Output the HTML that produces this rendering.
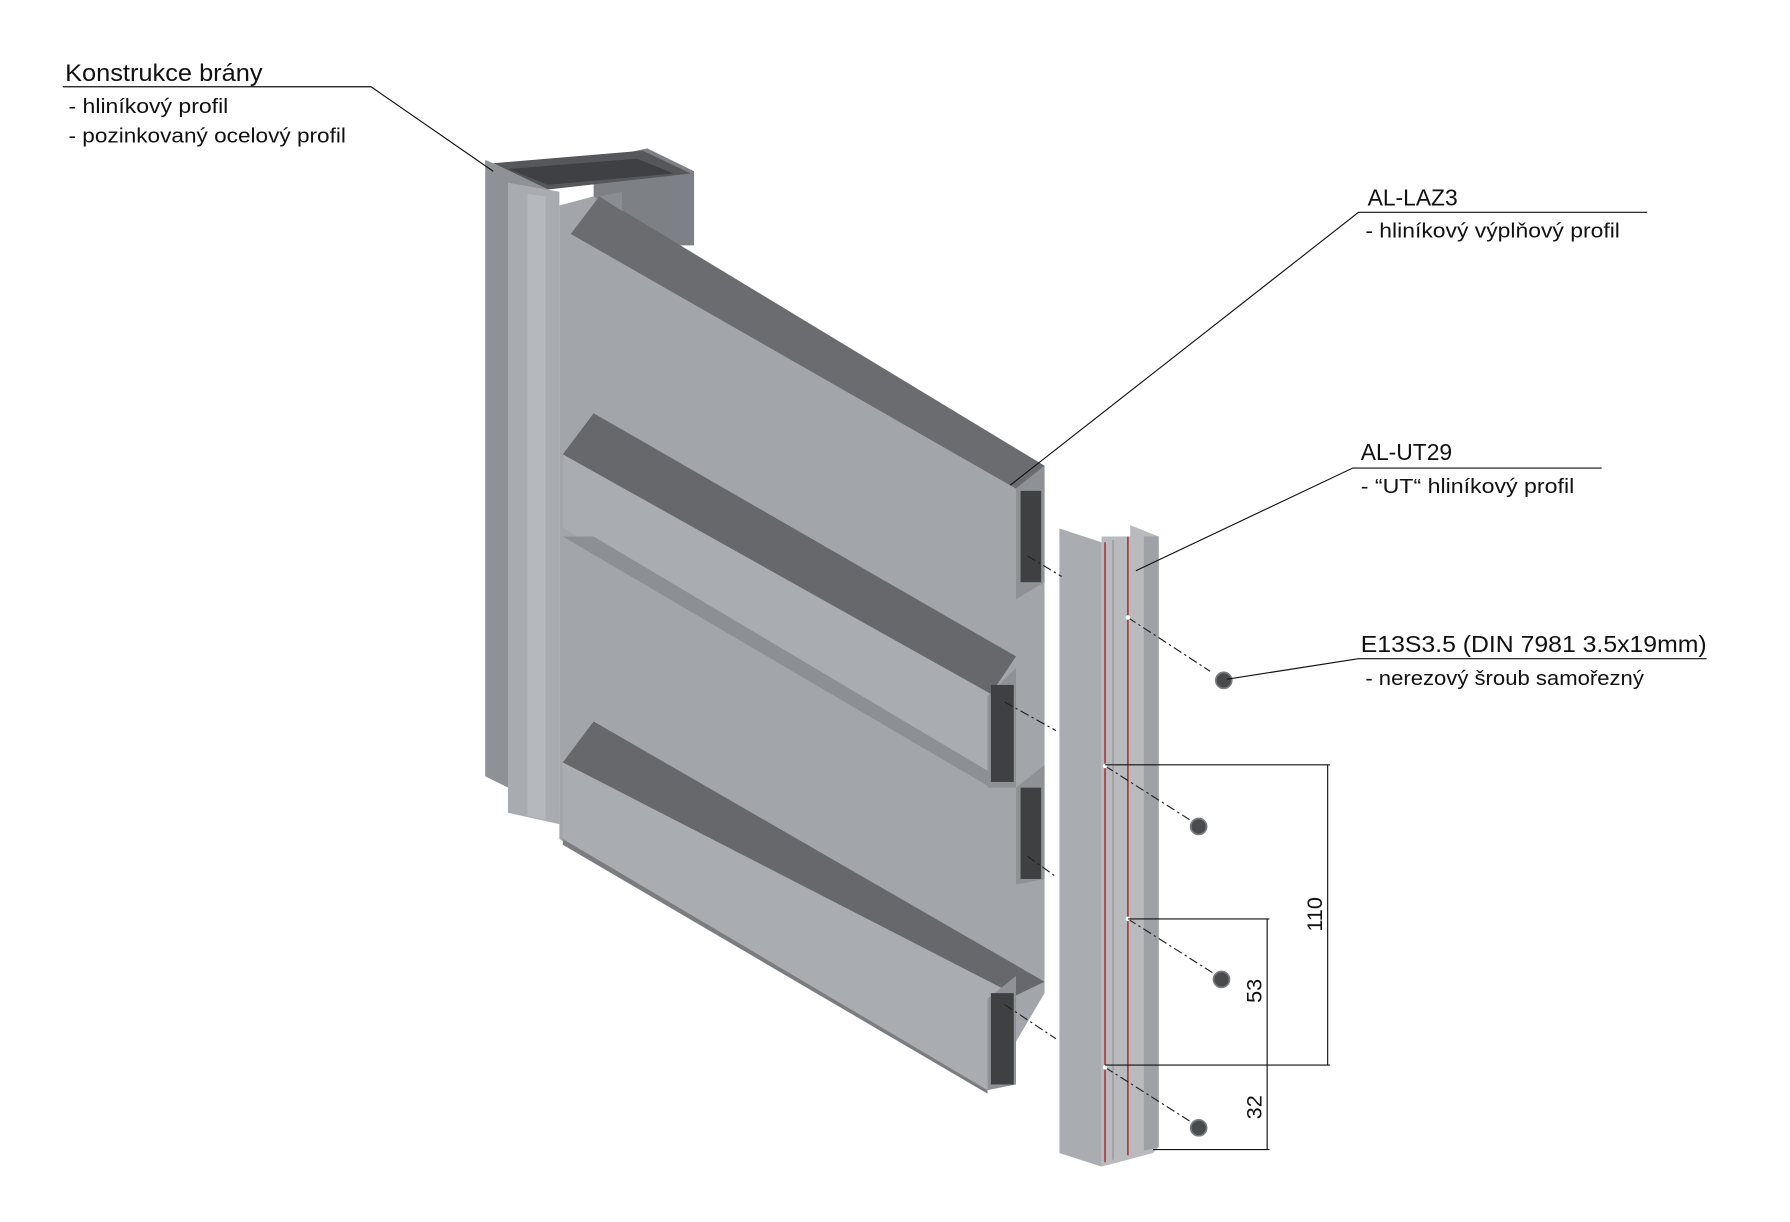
<!DOCTYPE html>
<html><head><meta charset="utf-8"><style>
html,body{margin:0;padding:0;background:#fff;}
svg{display:block}
text{font-family:"Liberation Sans",sans-serif;fill:#111}
</style></head><body>
<svg width="1790" height="1222" viewBox="0 0 1568 1070.5" preserveAspectRatio="none" xmlns="http://www.w3.org/2000/svg">
<rect width="1568" height="1071" fill="#fff"/>
<!-- post back tube -->
<polygon points="520,140 567,130 608,150 608,215 520,215" fill="#7d8085"/>
<polygon points="432,143 563,132 605,152 480,166" fill="#55575a"/>
<polygon points="445,148 558,139 590,152 480,162" fill="#3f4043"/>
<polygon points="425,140 432,143 480,166 480,170 445,160 445,690 425,680" fill="#8e9196"/>
<polygon points="445,160 490,168 490,722 445,712" fill="#a8abb0"/>
<polygon points="462,170 478,172 478,718 462,715" fill="#b5b8bc"/>
<!-- panel base -->
<polygon points="490,180 520,172 915,408 915,870 865,955 490,735" fill="#a2a5aa"/>
<polygon points="500,205 525,172 915,408 890,428" fill="#6a6c70"/>
<polygon points="525,172 545,168 545,185" fill="#8a8d91"/>
<polygon points="493,398 520,362 890,575 868,608" fill="#66686b"/>
<polygon points="493,398 868,608 868,690 493,462" fill="#a9acb0"/>
<polygon points="493,470 520,470 890,690 868,690" fill="#8c8f93"/>
<polygon points="493,668 520,632 915,860 890,872" fill="#66686b"/>
<polygon points="493,668 890,872 865,955 493,735" fill="#a9acb0"/>
<polygon points="493,735 865,955 865,958 493,740" fill="#7a7c80"/>
<!-- slat ends -->
<polygon points="890,428 915,408 915,510 890,525" fill="#8e9195"/>
<rect x="894" y="430" width="18" height="80" fill="#3f4042"/>
<polygon points="865,610 890,585 890,690 865,690" fill="#8e9195"/>
<rect x="868" y="600" width="20" height="85" fill="#3f4042"/>
<polygon points="890,690 915,670 915,770 890,775" fill="#8e9195"/>
<rect x="894" y="690" width="18" height="80" fill="#3f4042"/>
<polygon points="865,875 890,855 890,950 865,955" fill="#8e9195"/>
<rect x="868" y="870" width="20" height="80" fill="#3f4042"/>
<!-- UT profile -->
<polygon points="928,463 965,475 965,1022 928,1010" fill="#a9acb0"/>
<polygon points="965,470 990,470 990,460 1015,470 1015,1005 1010,1010 965,1022" fill="#b8babd"/>
<polygon points="1002,470 1015,470 1015,1005 1002,1008" fill="#9ea1a5"/>
<line x1="968" y1="475" x2="968" y2="1018" stroke="#b03a3a" stroke-width="1.5"/>
<line x1="988" y1="470" x2="988" y2="1012" stroke="#b03a3a" stroke-width="1.5"/>
<line x1="975" y1="473" x2="975" y2="1016" stroke="#8f9296" stroke-width="1"/>
<!-- dashed connectors -->
<g stroke="#222" stroke-width="1" stroke-dasharray="8,3,2,3" fill="none">
<line x1="900" y1="487" x2="930" y2="505"/><line x1="880" y1="615" x2="925" y2="640"/>
<line x1="900" y1="750" x2="925" y2="768"/><line x1="880" y1="880" x2="925" y2="910"/>
<line x1="988" y1="541" x2="1060" y2="588"/><line x1="968" y1="671" x2="1042" y2="718"/>
<line x1="988" y1="805" x2="1062" y2="852"/><line x1="968" y1="935" x2="1042" y2="982"/>
</g>
<g fill="#fff"><circle cx="988" cy="541" r="2"/><circle cx="968" cy="671" r="2"/><circle cx="988" cy="805" r="2"/><circle cx="968" cy="935" r="2"/></g>
<!-- screws -->
<g fill="#4a4b4d" stroke="#7a7c80" stroke-width="1.5"><circle cx="1072" cy="596" r="7"/><circle cx="1050" cy="724" r="7"/><circle cx="1070" cy="858" r="7"/><circle cx="1050" cy="988" r="7"/></g>
<!-- dimensions -->
<g stroke="#111" stroke-width="1" fill="none">
<line x1="968" y1="670" x2="1165" y2="670"/><line x1="968" y1="933" x2="1165" y2="933"/><line x1="1163" y1="670" x2="1163" y2="933"/>
<line x1="988" y1="805" x2="1112" y2="805"/><line x1="1010" y1="1007" x2="1112" y2="1007"/><line x1="1110" y1="805" x2="1110" y2="1007"/>
<!-- leaders -->
<polyline points="55,76 325,76 432,150"/>
<polyline points="1443,186 1190,186 885,425"/>
<polyline points="1403,410 1185,410 995,500"/>
<polyline points="1495,577 1190,577 1075,595"/>
</g>
<text x="1158" y="801" font-size="19" text-anchor="middle" transform="rotate(-90 1158 801)">110</text>
<text x="1105" y="868" font-size="19" text-anchor="middle" transform="rotate(-90 1105 868)">53</text>
<text x="1105" y="970" font-size="19" text-anchor="middle" transform="rotate(-90 1105 970)">32</text>
<text x="57" y="71" font-size="21" textLength="173" lengthAdjust="spacingAndGlyphs">Konstrukce brány</text>
<text x="60" y="99" font-size="18" fill="#333" textLength="140" lengthAdjust="spacingAndGlyphs">- hliníkový profil</text>
<text x="60" y="125" font-size="18" fill="#333" textLength="243" lengthAdjust="spacingAndGlyphs">- pozinkovaný ocelový profil</text>
<text x="1198" y="180" font-size="20">AL-LAZ3</text>
<text x="1196" y="208" font-size="18" fill="#333" textLength="223" lengthAdjust="spacingAndGlyphs">- hliníkový výplňový profil</text>
<text x="1192" y="403" font-size="20">AL-UT29</text>
<text x="1192" y="432" font-size="18" fill="#333" textLength="187" lengthAdjust="spacingAndGlyphs">- “UT“ hliníkový profil</text>
<text x="1192" y="571" font-size="20" textLength="303" lengthAdjust="spacingAndGlyphs">E13S3.5 (DIN 7981 3.5x19mm)</text>
<text x="1196" y="600" font-size="18" fill="#333" textLength="244" lengthAdjust="spacingAndGlyphs">- nerezový šroub samořezný</text>
</svg>
</body></html>
